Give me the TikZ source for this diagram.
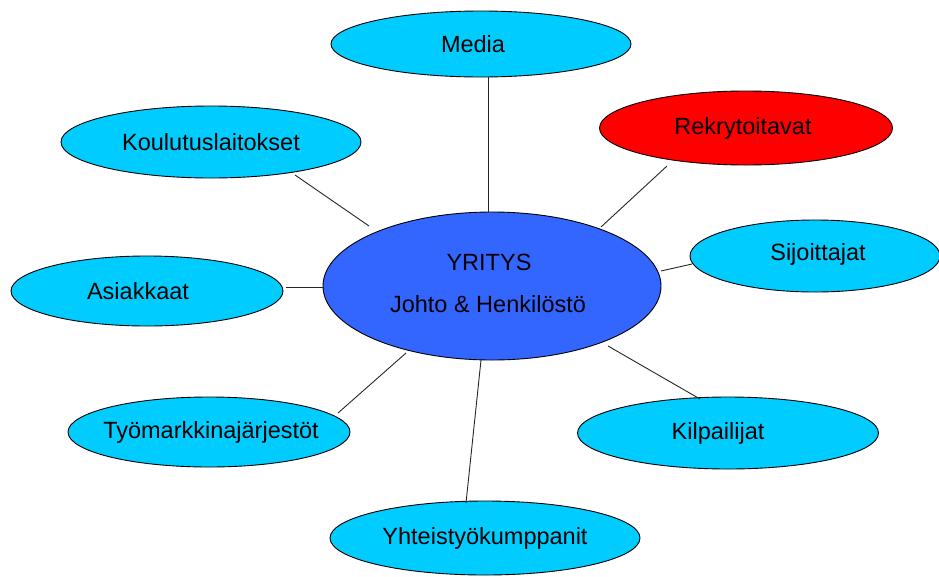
\documentclass[tikz,border=0pt]{standalone}
\usepackage{fontspec}
\setmainfont{Liberation Sans}
\usetikzlibrary{shapes.geometric}
\definecolor{skyfill}{HTML}{00CCFF}
\definecolor{corefill}{HTML}{3366FF}
\definecolor{hotfill}{HTML}{FF0000}
\tikzset{
  labelfont/.style={font=\fontsize{23.5}{27}\selectfont, inner sep=0pt},
  oval/.style args={#1/#2}{ellipse, draw=black, line width=0.9pt, inner sep=0pt,
    minimum width=#1pt, minimum height=#2pt},
  sky/.style={fill=skyfill},
  link/.style={draw=black!85, line width=0.9pt},
}
\begin{document}
\begin{tikzpicture}[x=1pt,y=-1pt]
\useasboundingbox (0,0) rectangle (939,576);
% stakeholder ovals
\node[oval=300/66, sky] (media) at (481,44) {};
\node[oval=293/74, fill=hotfill] (rekry) at (746,128) {};
\node[oval=300/72, sky] (koulu) at (211,142) {};
\node[oval=250/72, sky] (sijo) at (815,256) {};
\node[oval=272/70, sky] (asiak) at (147,291) {};
\node[oval=282/70, sky] (tyo) at (209,432) {};
\node[oval=301/72, sky] (kilp) at (728,433) {};
\node[oval=310/74, sky] (yht) at (485,538) {};
% central company oval
\node[oval=338/148, fill=corefill] (yritys) at (492,286) {};
% labels
\node[labelfont] (mediat) at (473,44) {Media};
\node[labelfont] (rekryt) at (743,128) {Rekrytoitavat};
\node[labelfont] (koulut) at (211,142) {Koulutuslaitokset};
\node[labelfont] (sijot) at (818,254) {Sijoittajat};
\node[labelfont] (asiakt) at (138,291) {Asiakkaat};
\node[labelfont] (tyot) at (211,432) {Työmarkkinajärjestöt};
\node[labelfont] (kilpt) at (718,433) {Kilpailijat};
\node[labelfont] (yhtt) at (485,538) {Yhteistyökumppanit};
\node[labelfont] (yt1) at (489,262) {YRITYS};
\node[labelfont] (yt2) at (488,304) {Johto \& Henkilöstö};
% connector end points
\coordinate (m1) at (488,77);   \coordinate (m2) at (488,212);
\coordinate (k1) at (295,175);  \coordinate (k2) at (369,226);
\coordinate (r1) at (667,166);  \coordinate (r2) at (601,227);
\coordinate (s1) at (692,264);  \coordinate (s2) at (661,271);
\coordinate (a1) at (286,287);  \coordinate (a2) at (323,287);
\coordinate (t1) at (338,413);  \coordinate (t2) at (406,353);
\coordinate (c1) at (700,399);  \coordinate (c2) at (608,346);
\coordinate (y1) at (466,503);  \coordinate (y2) at (481,360);
\draw[link] (m1) -- (m2);
\draw[link] (k1) -- (k2);
\draw[link] (r1) -- (r2);
\draw[link] (s1) -- (s2);
\draw[link] (a1) -- (a2);
\draw[link] (t1) -- (t2);
\draw[link] (c1) -- (c2);
\draw[link] (y1) -- (y2);
\end{tikzpicture}
\end{document}
